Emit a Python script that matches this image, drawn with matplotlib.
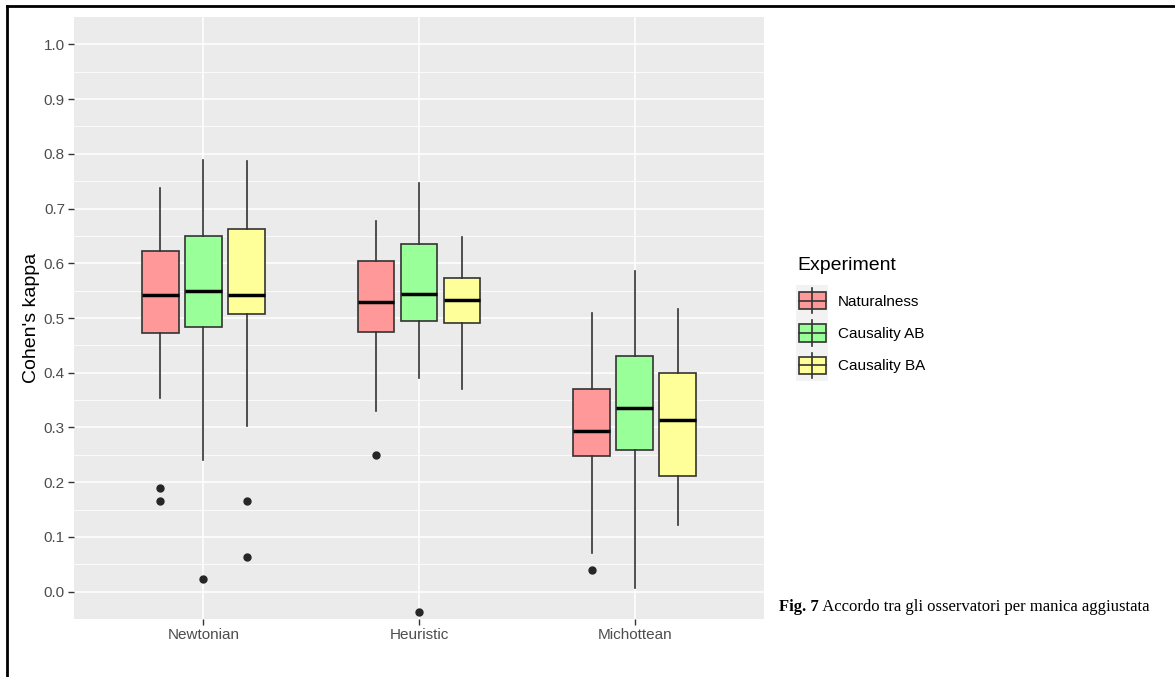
import matplotlib
matplotlib.use("Agg")
import matplotlib.pyplot as plt
from matplotlib.patches import Rectangle
from matplotlib.lines import Line2D

# ---------------- data ----------------
categories = ["Newtonian", "Heuristic", "Michottean"]
experiments = ["Naturalness", "Causality AB", "Causality BA"]
fill_colors = ["#FF9999", "#99FF99", "#FFFF99"]

# rows: experiment, columns: category
medians = [[0.542, 0.530, 0.293],
           [0.550, 0.544, 0.335],
           [0.542, 0.533, 0.313]]
q1 = [[0.472, 0.474, 0.248],
      [0.483, 0.494, 0.258],
      [0.508, 0.491, 0.211]]
q3 = [[0.623, 0.604, 0.371],
      [0.649, 0.636, 0.430],
      [0.662, 0.573, 0.399]]
whisker_low = [[0.354, 0.330, 0.071],
               [0.240, 0.390, 0.006],
               [0.302, 0.371, 0.121]]
whisker_high = [[0.738, 0.678, 0.509],
                [0.788, 0.746, 0.586],
                [0.787, 0.648, 0.517]]
outliers = [[[0.190, 0.166], [0.249], [0.040]],
            [[0.024], [-0.037], []],
            [[0.165, 0.063], [], []]]

y_ticks = [0.0, 0.1, 0.2, 0.3, 0.4, 0.5, 0.6, 0.7, 0.8, 0.9, 1.0]
y_label = "Cohen's kappa"
legend_title = "Experiment"
caption_bold = "Fig. 7"
caption_text = " Accordo tra gli osservatori per manica aggiustata"

# ---------------- figure ----------------
W, H = 1175, 677
fig = plt.figure(figsize=(W / 100, H / 100), dpi=100)
fig.patch.set_facecolor("white")

px_l, px_r, px_t, px_b = 74, 764, 17, 619
ax = fig.add_axes([px_l / W, 1 - px_b / H, (px_r - px_l) / W, (px_b - px_t) / H])
ax.set_facecolor("#EBEBEB")
for s in ax.spines.values():
    s.set_visible(False)

ax.set_xlim(0.4, 3.6)
ax.set_ylim(-0.05, 1.05)

# grid
for y in y_ticks:
    ax.axhline(y, color="white", lw=1.1, zorder=0.5)
for k in range(len(y_ticks) - 1):
    ax.axhline((y_ticks[k] + y_ticks[k + 1]) / 2, color="white", lw=0.55, zorder=0.4)
for i in range(len(categories)):
    ax.axvline(i + 1, color="white", lw=1.1, zorder=0.5)

offsets = [-0.2, 0.0, 0.2]
box_w = 0.17
for e, exp in enumerate(experiments):
    stats = []
    for c in range(len(categories)):
        stats.append(dict(med=medians[e][c], q1=q1[e][c], q3=q3[e][c],
                          whislo=whisker_low[e][c], whishi=whisker_high[e][c],
                          fliers=outliers[e][c]))
    pos = [c + 1 + offsets[e] for c in range(len(categories))]
    ax.bxp(stats, positions=pos, widths=box_w, patch_artist=True,
           showcaps=False, manage_ticks=False,
           boxprops=dict(facecolor=fill_colors[e], edgecolor="#333333", lw=1.2),
           whiskerprops=dict(color="#333333", lw=1.2),
           medianprops=dict(color="black", lw=2.5, solid_capstyle="butt"),
           flierprops=dict(marker="o", markersize=5, markerfacecolor="#262626",
                           markeredgecolor="#262626"),
           zorder=2)

ax.set_xticks([1, 2, 3])
ax.set_xticklabels(categories)
ax.set_yticks(y_ticks)
ax.set_yticklabels([f"{v:.1f}" for v in y_ticks])
ax.tick_params(axis="both", length=4, width=1, color="#333333",
               labelcolor="#4D4D4D", labelsize=11, pad=2.5)
for lab in ax.get_xticklabels() + ax.get_yticklabels():
    lab.set_fontfamily("Liberation Sans")
ax.set_ylabel(y_label, fontsize=14, fontfamily="Liberation Sans", color="black", labelpad=3)

# ---------------- overlay (legend, caption, frame) ----------------
ov = fig.add_axes([0, 0, 1, 1], zorder=5)
ov.set_xlim(0, W)
ov.set_ylim(H, 0)
ov.axis("off")

# frame lines (top and left)
ov.add_line(Line2D([7, W], [6, 6], color="black", lw=2.0))
ov.add_line(Line2D([7, 7], [6, H], color="black", lw=2.0))

ov.text(797, 266, legend_title, fontsize=14, fontfamily="Liberation Sans",
        va="center", ha="left", color="black")
key_x0, key_w, key_h = 796, 32, 32.3
key_top = 284.5
for e, exp in enumerate(experiments):
    ky = key_top + e * key_h
    ov.add_patch(Rectangle((key_x0, ky), key_w, key_h, facecolor="#F2F2F2",
                           edgecolor="none"))
    cx = key_x0 + key_w / 2
    ov.add_line(Line2D([cx, cx], [ky + 3.5, ky + key_h - 3.5], color="#333333", lw=1.2))
    ov.add_patch(Rectangle((key_x0 + 2.5, ky + 7.5), key_w - 5, key_h - 15,
                           facecolor=fill_colors[e], edgecolor="#333333", lw=1.2))
    ov.add_line(Line2D([key_x0 + 2.5, key_x0 + key_w - 2.5], [ky + key_h / 2, ky + key_h / 2],
                       color="#333333", lw=1.2))
    ov.text(838, ky + key_h / 2 + 1, exp, fontsize=11, fontfamily="Liberation Sans",
            va="center", ha="left", color="black")

cap_size = 12
t1 = ov.text(779, 607, caption_bold, fontsize=cap_size, fontfamily="Liberation Serif",
             fontweight="bold", va="center", ha="left", color="black")
fig.canvas.draw()
bb = t1.get_window_extent()
x_next = ov.transData.inverted().transform((bb.x1, bb.y0))[0]
ov.text(x_next, 607, caption_text, fontsize=cap_size, fontfamily="Liberation Serif",
        va="center", ha="left", color="black")

fig.savefig("out.png", dpi=100, facecolor="white")
